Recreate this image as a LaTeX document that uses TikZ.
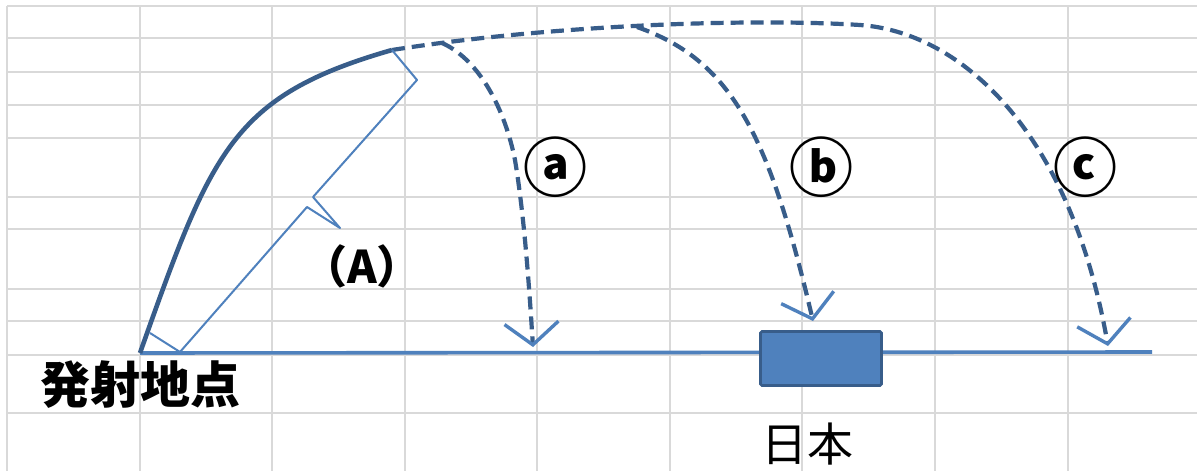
\documentclass[tikz,border=0pt]{standalone}
\usepackage{fontspec}
\setmainfont{Noto Sans CJK JP}
\usetikzlibrary{arrows.meta}

\definecolor{gridgray}{HTML}{D9D9D9}
\definecolor{pathblue}{HTML}{385D8A}
\definecolor{lineblue}{HTML}{4F81BD}

\begin{document}
\begin{tikzpicture}[
    x=1pt, y=-1pt,
    gridline/.style={draw=gridgray, line width=2pt},
    trajectory/.style={draw=pathblue, line width=4.6pt},
    flightpath/.style={draw=pathblue, line width=4.2pt, dash pattern=on 13pt off 7pt,
        -{Straight Barb[color=lineblue, length=22pt, width=54pt, line width=3.4pt]}},
    groundline/.style={draw=lineblue, line width=3.6pt},
    bracketline/.style={draw=lineblue, line width=2pt, line join=round},
    japanbox/.style={draw=pathblue, fill=lineblue, line width=2.8pt, rounded corners=1.5pt,
        minimum width=121pt, minimum height=54pt, inner sep=0pt},
    bigtext/.style={inner sep=0pt, font=\fontsize{50}{50}\selectfont},
    marktext/.style={inner sep=0pt, font=\fontsize{64}{64}\selectfont\bfseries},
    midtext/.style={inner sep=0pt, font=\fontsize{46}{46}\selectfont},
    smalltext/.style={inner sep=0pt, font=\fontsize{45}{45}\selectfont\bfseries},
]
\useasboundingbox (0,0) rectangle (1197,471);
\fill[white] (0,0) rectangle (1197,471);

% spreadsheet grid
\foreach \gx in {7,140,272,405,537,670,802,935,1068}
    \draw[gridline] (\gx,6) -- (\gx,471);
\foreach \gy in {6,38,72,105,138,197,229,289,321,355,413}
    \draw[gridline] (7,\gy) -- (1197,\gy);

% key points
\coordinate (launch) at (140,353);
\coordinate (apex) at (392,50);
\coordinate (forkA) at (442,43);
\coordinate (forkB) at (637,27);
\coordinate (bend) at (860,25);
\coordinate (landA) at (533,347);
\coordinate (landB) at (813,321);
\coordinate (landC) at (1108,346);
\coordinate (groundEnd) at (1152,352);

% ground and Japan
\draw[groundline] (launch) -- (groundEnd);
\node[japanbox] (japan) at (821,358.5) {};

% powered flight
\draw[trajectory] (launch) .. controls (212,150) and (232,96) .. (apex);

% ballistic paths
\draw[flightpath] (apex) .. controls (550,25) and (750,18) .. (bend)
    .. controls (960,32) and (1070,130) .. (landC);
\draw[flightpath] (forkB) .. controls (730,60) and (768,130) .. (landB);
\draw[flightpath] (forkA) .. controls (480,60) and (505,110) .. (515,160)
    .. controls (525,220) and (530,300) .. (landA);

% bracket (A)
\draw[bracketline] (150,333) -- (180,352) -- (307,207) -- (340,228)
    -- (313,197) -- (417,80) -- (apex);

% labels
\node[smalltext] (rangeA) at (362,266) {（A）};
\node[marktext] (markA) at (555,167) {ⓐ};
\node[marktext] (markB) at (821,167) {ⓑ};
\node[marktext] (markC) at (1085,167) {ⓒ};
\node[bigtext, font=\fontsize{50}{50}\selectfont\bfseries] (launchLabel) at (140,385) {発射地点};
\node[midtext] (japanLabel) at (807,444) {日本};
\end{tikzpicture}
\end{document}
